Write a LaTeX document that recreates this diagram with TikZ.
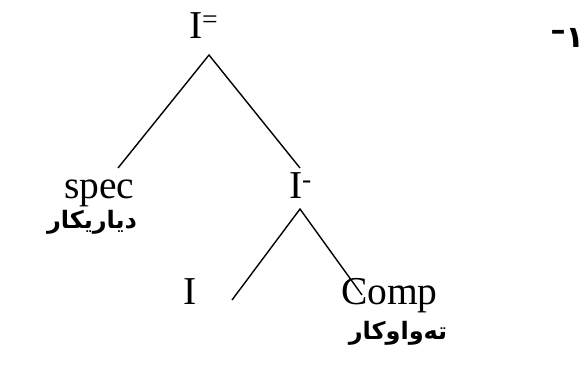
\documentclass[tikz,border=0pt]{standalone}
\usepackage{fontspec}
\setmainfont{Liberation Serif}
\newfontfamily\arabicfont[Script=Arabic]{DejaVu Sans}
\TeXXeTstate=1
\begin{document}
\begin{tikzpicture}[x=1pt,y=-1pt,
  lbl/.style={inner sep=0pt,outer sep=0pt,anchor=base west,font=\fontsize{39.5}{45}\selectfont},
  kurd/.style={inner sep=0pt,outer sep=0pt,anchor=base,font=\arabicfont\bfseries\fontsize{24}{28}\selectfont},
  branch/.style={line width=1.4pt}]
\useasboundingbox (0,0) rectangle (585,364);
\node[lbl] (ibar2) at (189,38) {I\textsuperscript{=}};
\node[lbl] (spec) at (64,198) {spec};
\node[lbl] (ibar1) at (289,198) {I\textsuperscript{-}};
\node[lbl] (ihead) at (183,304) {I};
\node[lbl] (comp) at (341,304) {Comp};
\node[kurd] (dyar) at (92,228) {\beginR دیاریکار\endR};
\node[kurd] (taw) at (398,339) {\beginR تەواوکار\endR};
\node[kurd,anchor=base east,font=\arabicfont\bfseries\fontsize{30}{32}\selectfont] (num) at (584,47) {\raisebox{7pt}{–}\beginR ١\endR};
\coordinate (a1) at (209,55);
\coordinate (a1l) at (118,168);
\coordinate (a1r) at (300,168);
\coordinate (a2) at (300,209);
\coordinate (a2l) at (232,300);
\coordinate (a2r) at (362,295);
\draw[branch] (a1l) -- (a1) -- (a1r);
\draw[branch] (a2l) -- (a2) -- (a2r);
\end{tikzpicture}
\end{document}
